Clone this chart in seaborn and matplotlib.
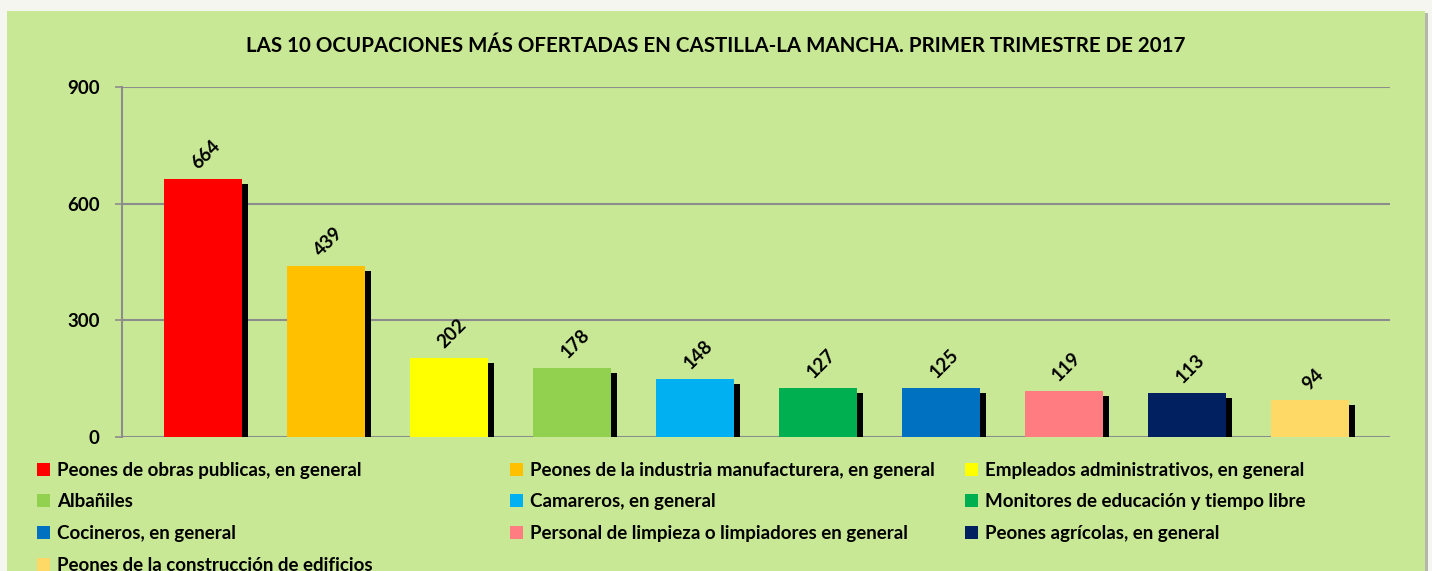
import matplotlib

matplotlib.use("Agg")
import matplotlib.pyplot as plt
import matplotlib.patheffects as pe
from matplotlib.patches import Rectangle, Patch
import pandas as pd
import seaborn as sns

ocupaciones = [
    "Peones de obras publicas, en general",
    "Peones de la industria manufacturera, en general",
    "Empleados administrativos, en general",
    "Albañiles",
    "Camareros, en general",
    "Monitores de educación y tiempo libre",
    "Cocineros, en general",
    "Personal de limpieza o limpiadores en general",
    "Peones agrícolas, en general",
    "Peones de la construcción de edificios",
]
ofertas = [664, 439, 202, 178, 148, 127, 125, 119, 113, 94]
colores = ["#FF0000", "#FFC000", "#FFFF00", "#92D050", "#00B0F0",
           "#00B050", "#0070C0", "#FF7C80", "#002060", "#FFD966"]
yticks = [0, 300, 600, 900]
titulo = "LAS 10 OCUPACIONES MÁS OFERTADAS EN CASTILLA-LA MANCHA. PRIMER TRIMESTRE DE 2017"

BG = "#C9E896"
GRID = "#8C8C8C"

sns.set_style("white")
plt.rcParams["font.family"] = ["Lato", "DejaVu Sans"]
plt.rcParams["font.weight"] = "bold"
plt.rcParams["text.color"] = "black"
plt.rcParams["ytick.color"] = "black"

df = pd.DataFrame({"ocupacion": ocupaciones, "ofertas": ofertas})

fig = plt.figure(figsize=(14.32, 5.71), dpi=100)
fig.patch.set_facecolor("#F4F6EF")
# panel verde con sombra a la derecha
fig.patches.append(Rectangle((9 / 1432, 0), 1419 / 1432, 1 - 13 / 571, transform=fig.transFigure,
                             facecolor="#B3B7AD", edgecolor="none", zorder=-2))
fig.patches.append(Rectangle((7 / 1432, 0), 1418 / 1432, 1 - 11 / 571, transform=fig.transFigure,
                             facecolor=BG, edgecolor="none", zorder=-1))

ax = fig.add_axes([122 / 1432, 1 - 437 / 571, 1268 / 1432, 350 / 571])
ax.set_facecolor("none")

sns.barplot(data=df, x="ocupacion", y="ofertas", hue="ocupacion", palette=colores,
            order=ocupaciones, hue_order=ocupaciones, legend=False, width=0.63,
            saturation=1, ax=ax, zorder=3)

sombra = [pe.SimplePatchShadow(offset=(4.2, -3.6), shadow_rgbFace="black", alpha=1), pe.Normal()]
for barra in ax.patches:
    barra.set_path_effects(sombra)
    barra.set_edgecolor("none")

for i, v in enumerate(ofertas):
    ax.annotate(str(v), (i, v), xytext=(2, 5), textcoords="offset points", ha="center",
                va="bottom", rotation=45, fontsize=13.5, fontweight="bold", color="black")

ax.set_xlim(-0.66, 9.65)
ax.set_ylim(0, 900)
ax.set_yticks(yticks)
ax.set_yticklabels([str(t) for t in yticks], fontsize=13.5, fontweight="bold", color="black")
ax.set_xticks([])
ax.set_xlabel("")
ax.set_ylabel("")
ax.yaxis.grid(True, color=GRID, linewidth=1.5, zorder=0)
ax.set_axisbelow(True)
ax.tick_params(axis="y", length=5, width=1.2, color=GRID, pad=11, left=True, labelcolor="black")
for lado in ["top", "right", "bottom"]:
    ax.spines[lado].set_visible(False)
ax.spines["left"].set_color(GRID)
ax.spines["left"].set_linewidth(1.5)

fig.text(716 / 1432, 1 - 46 / 571, titulo, ha="center", va="center", fontsize=14.8,
         fontweight="bold", color="black")

# leyenda en tres columnas, orden por filas
manijas = [Patch(facecolor=c, edgecolor="none") for c in colores]
columnas_x = [33, 506, 961]
for col in range(3):
    idx = list(range(col, len(ocupaciones), 3))
    leg = fig.legend([manijas[i] for i in idx], [ocupaciones[i] for i in idx],
                     loc="upper left", bbox_to_anchor=(columnas_x[col] / 1432, 1 - 458 / 571),
                     frameon=False, fontsize=13.5, handlelength=0.7, handleheight=0.7,
                     handletextpad=0.4, labelspacing=0.78, borderaxespad=0, borderpad=0.2)
    for t in leg.get_texts():
        t.set_fontweight("bold")
        t.set_color("black")

fig.savefig("out.png", dpi=100, facecolor=fig.get_facecolor())
